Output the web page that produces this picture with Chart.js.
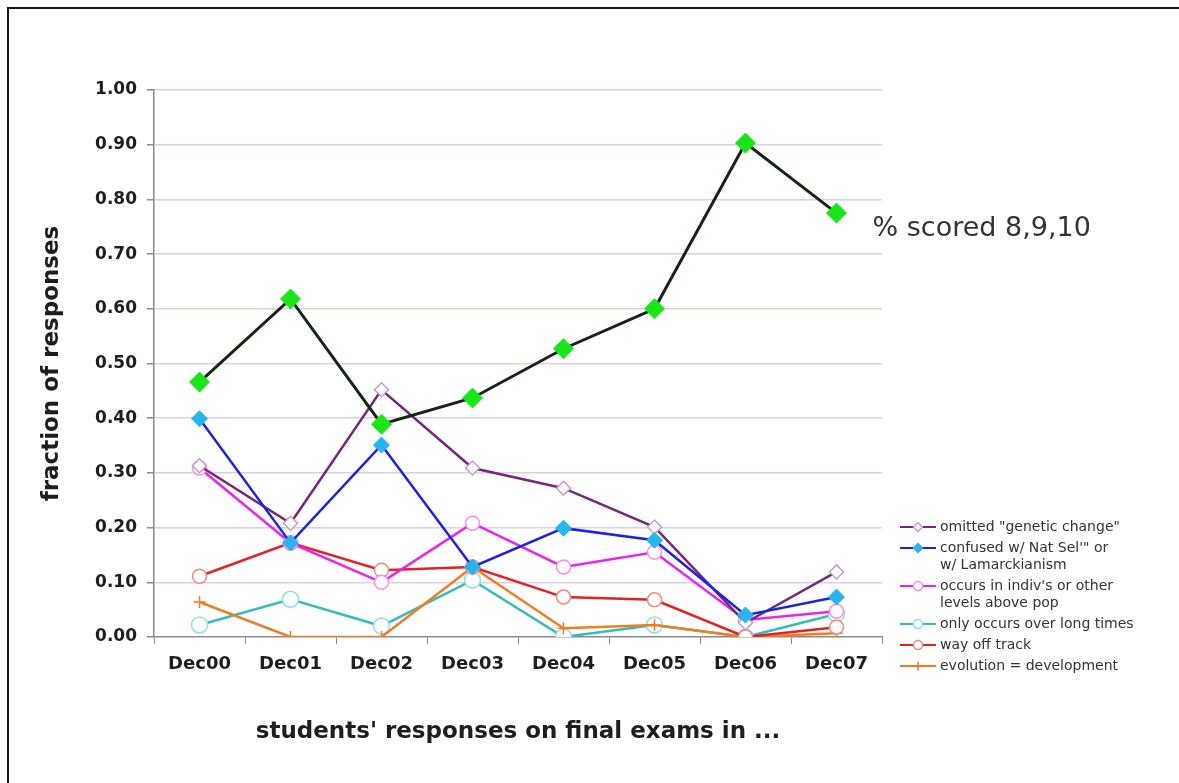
<!DOCTYPE html>
<html>
<head>
<meta charset="utf-8">
<script src="https://cdn.jsdelivr.net/npm/chart.js@4.4.1/dist/chart.umd.min.js"></script>
<style>
  html, body { margin: 0; padding: 0; background: #fff; }
  body { width: 1179px; height: 783px; overflow: hidden; position: relative; }
  #frame {
    position: absolute; left: 7px; top: 7px; right: 0; bottom: 0;
    border-top: 2px solid #1a1a1a; border-left: 2px solid #1a1a1a;
  }
  #chart { position: absolute; left: 0; top: 0; }
</style>
</head>
<body>
<div id="frame"></div>
<canvas id="chart" width="1179" height="783"></canvas>
<script>
const CATEGORIES = ["Dec00", "Dec01", "Dec02", "Dec03", "Dec04", "Dec05", "Dec06", "Dec07"];

const SCORED = [0.466, 0.618, 0.389, 0.437, 0.527, 0.600, 0.903, 0.775];
const OMITTED = [0.313, 0.208, 0.452, 0.309, 0.272, 0.201, 0.026, 0.119];
const CONFUSED = [0.399, 0.172, 0.351, 0.128, 0.199, 0.177, 0.040, 0.073];
const INDIVIDUALS = [0.309, 0.172, 0.100, 0.208, 0.128, 0.155, 0.031, 0.047];
const LONG_TIMES = [0.022, 0.069, 0.020, 0.104, 0.000, 0.022, 0.000, 0.042];
const OFF_TRACK = [0.111, 0.172, 0.122, 0.128, 0.073, 0.068, 0.000, 0.018];
const DEVELOPMENT = [0.064, 0.000, 0.000, 0.128, 0.016, 0.022, 0.000, 0.007];

const SERIES_NAMES = [
  "% scored 8,9,10",
  "omitted \"genetic change\"",
  "confused w/ Nat Sel'\" or\nw/ Lamarckianism",
  "occurs in indiv's or other\nlevels above pop",
  "only occurs over long times",
  "way off track",
  "evolution = development"
];

const Y_TITLE = "fraction of responses";
const X_TITLE = "students' responses on final exams in ...";

const FONT = "'DejaVu Sans', 'Liberation Sans', Arial, sans-serif";

function series(name, data, line, marker) {
  return {
    label: name,
    data,
    borderColor: line.color,
    borderWidth: line.width,
    backgroundColor: marker.fill,
    pointBackgroundColor: marker.fill,
    pointBorderColor: marker.stroke,
    pointBorderWidth: marker.width,
    pointStyle: marker.style,
    pointRadius: marker.radius,
    tension: 0,
    fill: false
  };
}

// first dataset is drawn on top
const datasets = [
  series(SERIES_NAMES[0], SCORED, { color: "#152515", width: 3 }, { style: "rectRot", fill: "#19e619", stroke: "#19e619", width: 1, radius: 10 }),
  series(SERIES_NAMES[2], CONFUSED, { color: "#1c22e0", width: 2.5 }, { style: "rectRot", fill: "#28b4ee", stroke: "#28b4ee", width: 1, radius: 8 }),
  series(SERIES_NAMES[1], OMITTED, { color: "#74287e", width: 2.5 }, { style: "rectRot", fill: "#ffffff", stroke: "#c79ccc", width: 1.5, radius: 7 }),
  series(SERIES_NAMES[3], INDIVIDUALS, { color: "#ee22ee", width: 2.5 }, { style: "circle", fill: "#ffffff", stroke: "#f090f0", width: 1.5, radius: 7 }),
  series(SERIES_NAMES[5], OFF_TRACK, { color: "#e52222", width: 2.5 }, { style: "circle", fill: "#ffffff", stroke: "#f08a80", width: 1.5, radius: 7 }),
  series(SERIES_NAMES[6], DEVELOPMENT, { color: "#f07d22", width: 2.5 }, { style: "cross", fill: "#f07d22", stroke: "#f07d22", width: 1.5, radius: 6 }),
  series(SERIES_NAMES[4], LONG_TIMES, { color: "#36bcbc", width: 2.5 }, { style: "circle", fill: "#ffffff", stroke: "#8ee0e6", width: 1.5, radius: 8 })
];

// legend lists series in this order (by label)
const LEGEND_ORDER = [1, 2, 3, 4, 5, 6];

const sideLegend = {
  id: "sideLegend",
  afterDraw(chart) {
    const ctx = chart.ctx;
    ctx.save();
    ctx.font = "14px " + FONT;
    ctx.textBaseline = "middle";
    let y = 527;
    LEGEND_ORDER.forEach((nameIndex) => {
      const ds = chart.data.datasets.find((d) => d.label === SERIES_NAMES[nameIndex]);
      const lines = SERIES_NAMES[nameIndex].split("\n");
      ctx.strokeStyle = ds.borderColor;
      ctx.lineWidth = 2;
      ctx.beginPath();
      ctx.moveTo(900, y);
      ctx.lineTo(936, y);
      ctx.stroke();
      ctx.fillStyle = ds.pointBackgroundColor;
      ctx.strokeStyle = ds.pointBorderColor;
      ctx.lineWidth = 1.5;
      Chart.helpers.drawPoint(ctx, { pointStyle: ds.pointStyle, radius: 4.5, rotation: 0, borderWidth: 1.5 }, 918, y);
      ctx.fillStyle = "#333";
      lines.forEach((line, i) => ctx.fillText(line, 940, y + i * 17));
      y += 21 + (lines.length - 1) * 17;
    });
    ctx.restore();
  }
};

const scoredNote = {
  id: "scoredNote",
  afterDraw(chart) {
    const ctx = chart.ctx;
    const last = SCORED.length - 1;
    const x = chart.scales.x.getPixelForValue(last) + 36;
    const y = chart.scales.y.getPixelForValue(SCORED[last]) + 16;
    ctx.save();
    ctx.font = "27px " + FONT;
    ctx.fillStyle = "#333";
    ctx.textBaseline = "middle";
    ctx.fillText(SERIES_NAMES[0], x, y);
    ctx.restore();
  }
};

new Chart(document.getElementById("chart"), {
  type: "line",
  data: { labels: CATEGORIES, datasets },
  options: {
    responsive: false,
    devicePixelRatio: 1,
    animation: false,
    events: [],
    layout: { padding: { top: 90, left: 38, right: 297, bottom: 37 } },
    plugins: { legend: { display: false }, tooltip: { enabled: false } },
    scales: {
      x: {
        type: "category",
        offset: true,
        afterFit(scale) { scale.height = 109; },
        grid: { offset: true, drawOnChartArea: false, tickLength: 7, tickColor: "#8a8a8a" },
        border: { color: "#8a8a8a", width: 1.5 },
        ticks: { color: "#1e1e1e", padding: 10, font: { family: FONT, size: 18, weight: "bold" } },
        title: {
          display: true,
          text: X_TITLE,
          color: "#1e1e1e",
          padding: 0,
          font: { family: FONT, size: 23, weight: "bold" }
        }
      },
      y: {
        min: 0,
        max: 1,
        afterFit(scale) { scale.width = 116; },
        grid: {
          color: (c) => (c.tick && c.tick.value === 0 ? "rgba(0,0,0,0)" : "#d9cfef"),
          lineWidth: 1.5,
          tickLength: 7,
          tickColor: "#8a8a8a"
        },
        border: { color: "#8a8a8a", width: 1.5 },
        ticks: {
          stepSize: 0.1,
          padding: 10,
          color: "#1e1e1e",
          font: { family: FONT, size: 17, weight: "bold" },
          callback: (v) => Number(v).toFixed(2)
        },
        title: {
          display: true,
          text: Y_TITLE,
          color: "#1e1e1e",
          padding: 0,
          font: { family: FONT, size: 23, weight: "bold" }
        }
      }
    }
  },
  plugins: [sideLegend, scoredNote]
});
</script>
</body>
</html>
